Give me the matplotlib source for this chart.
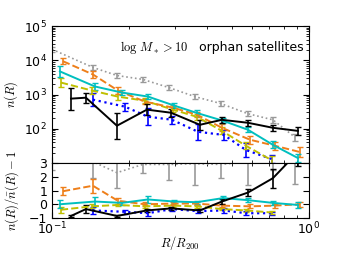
import numpy as np
import matplotlib
matplotlib.use('Agg')
import matplotlib.pyplot as plt
from matplotlib.ticker import NullFormatter

plt.rcParams['mathtext.fontset'] = 'cm'
plt.rcParams['font.size'] = 9

# ---------------------------------------------------------------------------
# radial positions (R/R200) and n(R) for each sample, error bars in dex
R_gray = [0.100, 0.1443, 0.1790, 0.2259, 0.2852, 0.3600, 0.4545, 0.5789, 0.7243, 0.8820]
n_gray = [21000, 6200, 3600, 2770, 1600, 870, 545, 276, 183, 57]
e_gray = [0.08, 0.08, 0.08, 0.08, 0.08, 0.08, 0.08, 0.08, 0.08, 0.1]

R_orange = [0.1104, 0.1443, 0.1806, 0.2300, 0.2956, 0.3665, 0.4586, 0.5894, 0.7374, 0.9226]
n_orange = [9400, 3870, 1310, 622, 415, 258, 107, 48, 32, 21]
e_orange = [0.09, 0.09, 0.09, 0.08, 0.08, 0.08, 0.1, 0.12, 0.12, 0.15]

R_cyan = [0.1074, 0.1470, 0.1872, 0.2363, 0.2983, 0.3665, 0.4628, 0.5789, 0.7243, 0.9063]
n_cyan = [4740, 1720, 1145, 874, 480, 290, 172, 94, 34, 14]
e_cyan = [0.15, 0.09, 0.08, 0.08, 0.08, 0.08, 0.08, 0.08, 0.1, 0.12]

R_yellow = [0.1084, 0.1431, 0.1806, 0.2300, 0.2956, 0.3665, 0.4586, 0.5686, 0.7178]
n_yellow = [2240, 1310, 870, 660, 363, 224, 87, 32, 12]
e_yellow = [0.12, 0.09, 0.09, 0.08, 0.08, 0.08, 0.1, 0.1, 0.12]

R_blue = [0.1443, 0.1923, 0.2363, 0.2930, 0.3698, 0.4670, 0.5686, 0.7178]
n_blue = [710, 443, 226, 184, 82, 66, 24, 13]
e_blue = [0.18, 0.12, 0.24, 0.12, 0.24, 0.15, 0.2, 0.12]

R_black = [0.1186, 0.1356, 0.1790, 0.2342, 0.2904, 0.3765, 0.4586, 0.5789, 0.7243, 0.9063]
n_black = [760, 810, 123, 363, 295, 131, 183, 150, 107, 87]
e_black = [0.32, 0.15, 0.38, 0.15, 0.12, 0.15, 0.09, 0.09, 0.09, 0.12]

# ratio n(R)/nbar(R) - 1
r_gray = [3.5, 3.1, 2.3, 2.9, 2.9, 2.95, 2.9, 3.1, 3.3, 3.0]
re_gray = [1.0, 1.2, 1.1, 0.6, 1.15, 1.55, 1.0, 1.7, 0.8, 1.5]
r_orange = [0.95, 1.35, 0.25, 0.0, 0.05, 0.05, -0.1, -0.15, -0.1, 0.0]
re_orange = [0.3, 0.5, 0.2, 0.15, 0.1, 0.1, 0.1, 0.15, 0.15, 0.2]
r_cyan = [0.0, 0.2, 0.1, 0.35, 0.2, 0.15, 0.45, 0.3, 0.1, -0.05]
re_cyan = [0.3, 0.3, 0.15, 0.25, 0.1, 0.1, 0.15, 0.15, 0.15, 0.2]
r_yellow = [-0.4, -0.15, -0.05, -0.15, -0.1, -0.15, -0.35, -0.45, -0.6]
re_yellow = [0.2, 0.15, 0.1, 0.1, 0.1, 0.1, 0.1, 0.1, 0.1]
r_blue = [-0.45, -0.55, -0.65, -0.35, -0.5, -0.45, -0.65, -0.65]
re_blue = [0.25, 0.15, 0.2, 0.15, 0.15, 0.15, 0.15, 0.1]
r_black = [-0.85, -0.35, -0.85, -0.45, -0.3, -0.45, 0.2, 0.85, 1.9, 3.8]
re_black = [0.1, 0.27, 0.1, 0.1, 0.1, 0.1, 0.15, 0.25, 0.7, 1.0]

# ---------------------------------------------------------------------------
series = [
    (R_gray, n_gray, e_gray, r_gray, re_gray, '#999999', ':', 1.2),
    (R_blue, n_blue, e_blue, r_blue, re_blue, 'b', ':', 1.6),
    (R_yellow, n_yellow, e_yellow, r_yellow, re_yellow, '#bfbf00', '--', 1.4),
    (R_orange, n_orange, e_orange, r_orange, re_orange, '#ee7f1a', '--', 1.4),
    (R_cyan, n_cyan, e_cyan, r_cyan, re_cyan, '#00bfbf', '-', 1.4),
    (R_black, n_black, e_black, r_black, re_black, 'k', '-', 1.4),
]

fig = plt.figure(figsize=(3.44, 2.58), dpi=100)
ax1 = fig.add_axes([0.151, 0.368, 0.747, 0.531])
ax2 = fig.add_axes([0.151, 0.155, 0.747, 0.213], sharex=ax1)

for R, n, e, r, re, col, ls, lw in series:
    n = np.array(n, dtype=float)
    e = np.array(e)
    yerr = [n * (1 - 10**-e), n * (10**e - 1)]
    ax1.errorbar(R, n, yerr=yerr, color=col, ls=ls, lw=lw, elinewidth=1.2,
                 capsize=2, capthick=1)
    ax2.errorbar(R, r, yerr=re, color=col, ls=ls, lw=lw, elinewidth=1.2,
                 capsize=2, capthick=1)

ax1.set_xscale('log')
ax1.set_yscale('log')
ax1.set_xlim(0.1, 1.0)
ax1.set_ylim(10, 1e5)
ax1.set_yticks([1e2, 1e3, 1e4, 1e5])
ax1.yaxis.set_minor_formatter(NullFormatter())
ax2.set_ylim(-1, 3)
ax2.set_yticks([-1, 0, 1, 2, 3])
ax2.xaxis.set_minor_formatter(NullFormatter())

for ax in (ax1, ax2):
    ax.tick_params(which='both', direction='in', top=True, right=True, labelsize=9)
    ax.tick_params(which='major', length=4)
    ax.tick_params(which='minor', length=2)
ax2.tick_params(axis='x', which='both', pad=2)
plt.setp(ax1.get_xticklabels(), visible=False)

ax1.set_ylabel(r'$n(R)$', fontsize=9)
ax2.set_ylabel(r'$n(R)/\bar{n}(R)-1$', fontsize=9)
ax1.yaxis.set_label_coords(-0.125, 0.5)
ax2.yaxis.set_label_coords(-0.12, 0.5)
ax2.set_xlabel(r'$R/R_{200}$', fontsize=9)
ax2.xaxis.set_label_coords(0.5, -0.3)

ax1.text(0.265, 0.847, r'$\log\,M_* > 10$', transform=ax1.transAxes,
         fontsize=9, va='center', ha='left')
ax1.text(0.572, 0.847, 'orphan satellites', transform=ax1.transAxes,
         fontsize=9, va='center', ha='left')

fig.savefig('out.png', dpi=100)
